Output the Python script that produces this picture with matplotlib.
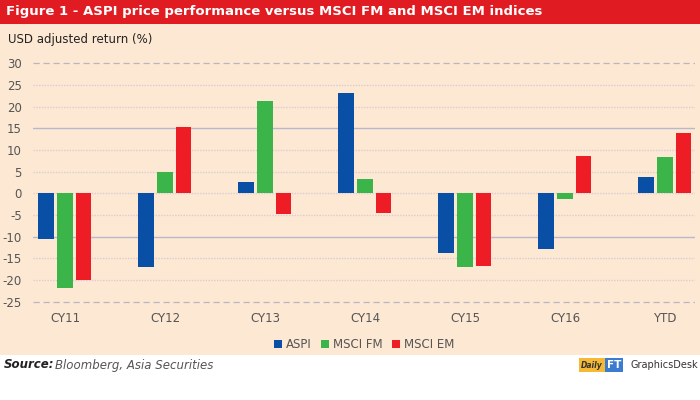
import matplotlib.pyplot as plt
import numpy as np
from matplotlib.patches import Rectangle

categories = ['CY11', 'CY12', 'CY13', 'CY14', 'CY15', 'CY16', 'YTD']
aspi = [-10.5, -16.9, 2.7, 23.2, -13.8, -12.9, 3.7]
msci_fm = [-21.8, 5.0, 21.3, 3.3, -16.9, -1.3, 8.3]
msci_em = [-20.0, 15.4, -4.8, -4.6, -16.8, 8.6, 13.9]
yticks = np.arange(-25, 31, 5)

cream = '#fde8d3'
blue = '#0a4fa6'
green = '#3bb54a'
red = '#ee1d25'
narrow = ['Liberation Sans Narrow', 'DejaVu Sans Condensed', 'DejaVu Sans']

fig = plt.figure(figsize=(7, 4), dpi=100)
fig.patch.set_facecolor('white')
# cream panel and red title bar, behind the axes
fig.patches.append(Rectangle((0, 45 / 400), 1, 331 / 400, transform=fig.transFigure,
                             facecolor=cream, edgecolor='none', zorder=-2))
fig.patches.append(Rectangle((0, 376 / 400), 1, 24 / 400, transform=fig.transFigure,
                             facecolor='#e01b22', edgecolor='none', zorder=-2))
fig.text(0.008, 388 / 400, 'Figure 1 - ASPI price performance versus MSCI FM and MSCI EM indices',
         color='white', fontsize=9.5, fontweight='bold', va='center', ha='left', family=narrow)
fig.text(0.012, 361 / 400, 'USD adjusted return (%)', color='#222222', fontsize=8.5,
         va='center', ha='left', family=narrow)

ax = fig.add_axes([33 / 700, 0.2133, 662 / 700, 0.650])
ax.set_facecolor('none')
ax.set_zorder(2)

x = np.arange(len(categories))
w = 0.155
ax.bar(x - 0.19, aspi, w, color=blue, label='ASPI', zorder=3)
ax.bar(x, msci_fm, w, color=green, label='MSCI FM', zorder=3)
ax.bar(x + 0.185, msci_em, w, color=red, label='MSCI EM', zorder=3)

for t in yticks:
    if t in (30, -25):
        ax.axhline(t, color='#b9b6bf', lw=0.9, ls=(0, (5, 3)), zorder=1)
    elif t in (15, -10):
        ax.axhline(t, color='#b8b8cc', lw=1.0, zorder=1)
    else:
        ax.axhline(t, color='#d9ccd2', lw=1.0, ls=(0, (1, 1)), zorder=1)

ax.set_xlim(-0.32, 6.3)
ax.set_ylim(-28, 32)
ax.set_yticks(yticks)
ax.set_yticklabels([str(t) for t in yticks])
ax.set_xticks(x)
ax.set_xticklabels(categories)
ax.tick_params(axis='both', length=0, labelsize=8.5, labelcolor='#555555')
ax.tick_params(axis='y', pad=8)
ax.tick_params(axis='x', pad=-2)
for s in ax.spines.values():
    s.set_visible(False)

leg = ax.legend(loc='upper center', bbox_to_anchor=(0.5, -0.05), ncol=3, frameon=False,
                fontsize=8.5, handlelength=0.7, handleheight=0.7, handletextpad=0.3,
                columnspacing=0.8)
for txt in leg.get_texts():
    txt.set_color('#555555')

fig.text(0.006, 35 / 400, 'Source:', fontsize=8.5, fontweight='bold', style='italic',
         color='#222222', va='center', ha='left')
fig.text(0.078, 35 / 400, 'Bloomberg, Asia Securities', fontsize=8.5, style='italic',
         color='#555555', va='center', ha='left')
# DailyFT GraphicsDesk logo
fig.text(0.830, 35 / 400, 'Daily', fontsize=5.5, fontweight='bold', style='italic', color='#333333',
         va='center', ha='left', bbox=dict(facecolor='#f5b935', edgecolor='none', pad=1.5))
fig.text(0.867, 35 / 400, 'FT', fontsize=7.5, fontweight='bold', color='white',
         va='center', ha='left', bbox=dict(facecolor='#3d7bd1', edgecolor='none', pad=1.2))
fig.text(0.997, 35 / 400, 'GraphicsDesk', fontsize=7, color='#333333',
         va='center', ha='right', family=narrow)

fig.savefig('out.png', dpi=100)
